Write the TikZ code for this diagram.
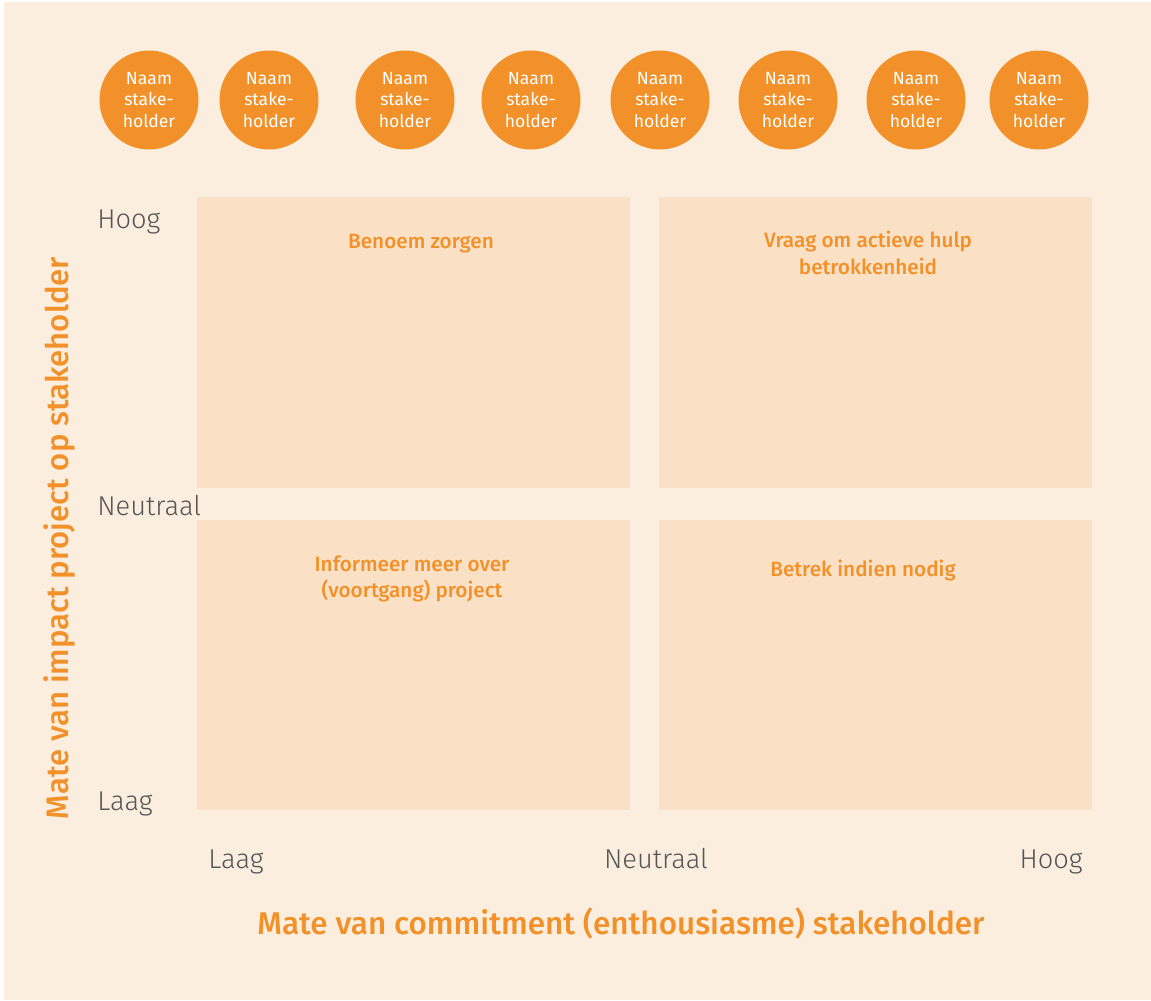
\documentclass[tikz,border=0pt]{standalone}
\usepackage{fontspec}
\setmainfont{Fira Sans}
\newfontfamily\lightfont{Fira Sans Light}
\newfontfamily\mediumfont{Fira Sans Medium}

\definecolor{bgcream}{HTML}{FBEEDF}
\definecolor{quadpeach}{HTML}{FAE1C6}
\definecolor{mateorange}{HTML}{F29129}
\definecolor{schaalgrijs}{HTML}{555555}

\tikzset{
    stakeholder/.style={circle, fill=mateorange, inner sep=0pt, minimum size=1.98cm,
        text=white, align=center, font=\fontsize{10}{12.4}\selectfont},
    kwadrant/.style={fill=quadpeach},
    kwadranttekst/.style={text=mateorange, align=center, anchor=base,
        font=\mediumfont\fontsize{11.8}{14.8}\selectfont},
    schaal/.style={text=schaalgrijs, inner sep=0pt, font=\lightfont\fontsize{15.5}{18}\selectfont},
    astitel/.style={text=mateorange, inner sep=0pt, anchor=base,
        font=\mediumfont\fontsize{17.9}{21}\selectfont}
}

\begin{document}
\begin{tikzpicture}[x=0.02cm, y=-0.02cm]
    % Draw the background
    \useasboundingbox (0,0) rectangle (1151,1000);
    \fill[white] (0,0) rectangle (1151,1000);
    \fill[bgcream] (4,2) rectangle (1151,1000);

    % Stakeholder circles along the top
    \foreach \cx [count=\i] in {149,269,405,531,660,788,916,1039}
        \node[stakeholder] (naam\i) at (\cx,100) {Naam\\stake-\\holder};

    % Four quadrants
    \fill[kwadrant] (197,197) rectangle (630,488);
    \fill[kwadrant] (659,197) rectangle (1092,488);
    \fill[kwadrant] (197,520) rectangle (630,810);
    \fill[kwadrant] (659,520) rectangle (1092,810);

    % Text in the quadrants (base = last line)
    \node[kwadranttekst] (zorgen) at (421,248) {Benoem zorgen};
    \node[kwadranttekst] (hulp) at (868,274) {Vraag om actieve hulp\\betrokkenheid};
    \node[kwadranttekst] (informeer) at (412,597) {Informeer meer over\\(voortgang) project};
    \node[kwadranttekst] (betrek) at (863,576) {Betrek indien nodig};

    % Scale on the vertical axis
    \node[schaal, anchor=base west] (yhoog) at (97,228) {Hoog};
    \node[schaal, anchor=base west] (yneutraal) at (97,515) {Neutraal};
    \node[schaal, anchor=base west] (ylaag) at (97,810) {Laag};

    % Scale on the horizontal axis
    \node[schaal, anchor=base west] (xlaag) at (208,868) {Laag};
    \node[schaal, anchor=base] (xneutraal) at (656,868) {Neutraal};
    \node[schaal, anchor=base east] (xhoog) at (1083,868) {Hoog};

    % Axis titles
    \node[astitel] (xtitel) at (621,934) {Mate van commitment (enthousiasme) stakeholder};
    \node[astitel, rotate=90, font=\mediumfont\fontsize{17.7}{21}\selectfont] (ytitel) at (68,538) {Mate van impact project op stakeholder};
\end{tikzpicture}
\end{document}
